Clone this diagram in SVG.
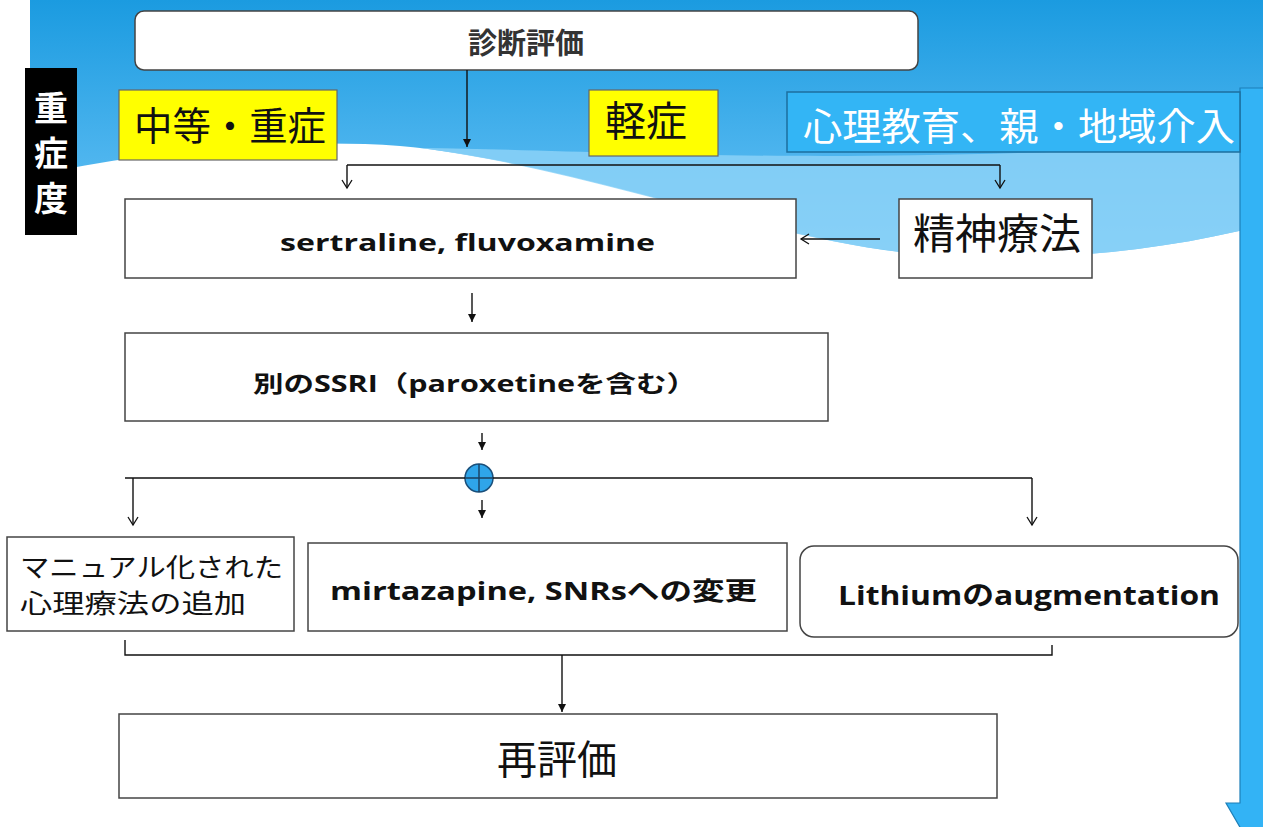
<svg xmlns="http://www.w3.org/2000/svg" width="1263" height="827" viewBox="0 0 1263 827">
<defs>
<linearGradient id="sky" x1="0" y1="0" x2="0" y2="1">
<stop offset="0" stop-color="#1b9be0"/>
<stop offset="0.6" stop-color="#4cb4ee"/>
<stop offset="1" stop-color="#6cc4f4"/>
</linearGradient>
<marker id="ao" markerWidth="12" markerHeight="12" refX="10" refY="6" orient="auto" markerUnits="userSpaceOnUse">
<path d="M2,1 L10,6 L2,11" fill="none" stroke="#111" stroke-width="1.3"/>
</marker>
<marker id="af" markerWidth="10" markerHeight="10" refX="9" refY="5" orient="auto" markerUnits="userSpaceOnUse">
<path d="M1,1 L9,5 L1,9 Z" fill="#111"/>
</marker>
</defs>
<style>
.box{fill:#fff;stroke:#444;stroke-width:1.5}
.yel{fill:#ffff00;stroke:#666;stroke-width:1.2}
.ln{fill:none;stroke:#111;stroke-width:1.4}
.g{font-family:"Noto Sans CJK JP",sans-serif;fill:#111}
.s{font-family:"Liberation Serif","Noto Sans CJK JP",serif;fill:#111}
.b{font-family:"Open Sans","Noto Sans CJK JP",sans-serif;font-weight:bold;fill:#111}
.w{fill:#fff}
</style>
<rect width="1263" height="827" fill="#fff"/>
<g id="background">
<path d="M30,0 H1263 V225 C1150,255 1010,265 900,252 C760,236 560,160 400,146 C290,138 150,150 30,176 Z" fill="url(#sky)"/>
<path d="M420,148 C620,150 820,168 1263,142 V225 C1150,255 1010,265 900,252 C760,236 580,168 420,148 Z" fill="#8fd3f8" opacity="0.8"/>
<path d="M1240,88 H1275 V803 H1290 L1252,848 L1226,803 H1240 Z" fill="#33b3f5" stroke="#1d7fb8" stroke-width="1.2"/>
</g>
<g id="severity">
<rect x="25" y="68" width="52" height="167" fill="#000"/>
<text class="s w" x="51" y="121" font-size="34" font-weight="bold" text-anchor="middle">重</text>
<text class="s w" x="51" y="166" font-size="34" font-weight="bold" text-anchor="middle">症</text>
<text class="s w" x="51" y="211" font-size="34" font-weight="bold" text-anchor="middle">度</text>
</g>
<g id="diagnosis">
<rect x="135" y="11" width="783" height="59" rx="9" class="box"/>
<text class="g" x="526" y="54" font-size="29" font-weight="bold" text-anchor="middle" style="fill:#333">診断評価</text>
</g>
<g id="moderate">
<rect x="119" y="90" width="218" height="70" class="yel"/>
<text class="s" x="134" y="140" font-size="39" textLength="192" lengthAdjust="spacingAndGlyphs">中等・重症</text>
</g>
<g id="mild">
<rect x="589" y="90" width="129" height="66" class="yel"/>
<text class="s" x="646" y="136" font-size="41" text-anchor="middle">軽症</text>
</g>
<g id="psychoedu">
<rect x="787" y="92" width="453" height="60" fill="#33b5f5" stroke="#1d6f9e" stroke-width="1.5"/>
<text class="s w" x="803" y="140" font-size="38" textLength="432" lengthAdjust="spacingAndGlyphs">心理教育、親・地域介入</text>
</g>
<g id="sertraline">
<rect x="125" y="199" width="671" height="79" class="box"/>
<text class="b" x="280" y="251" font-size="24" textLength="375" lengthAdjust="spacingAndGlyphs">sertraline, fluvoxamine</text>
</g>
<g id="psychotherapy">
<rect x="899" y="199" width="193" height="79" class="box"/>
<text class="s" x="997" y="249" font-size="42" text-anchor="middle">精神療法</text>
</g>
<g id="ssri">
<rect x="125" y="333" width="703" height="88" class="box"/>
<text class="b" x="253" y="392" font-size="23" textLength="444" lengthAdjust="spacingAndGlyphs">別のSSRI（paroxetineを含む）</text>
</g>
<g id="junction">
<circle cx="479" cy="478" r="14" fill="#2fa5ea" stroke="#1a4f7a" stroke-width="1.5"/>
<path d="M465,478 H493 M479,464 V492" stroke="#1a3f5f" stroke-width="1.4"/>
</g>
<g id="manual">
<rect x="7" y="537" width="287" height="94" class="box"/>
<text class="g" x="20" y="577" font-size="26" textLength="263" lengthAdjust="spacingAndGlyphs">マニュアル化された</text>
<text class="g" x="20" y="613" font-size="26" textLength="226" lengthAdjust="spacingAndGlyphs">心理療法の追加</text>
</g>
<g id="mirtazapine">
<rect x="308" y="543" width="479" height="88" class="box"/>
<text class="b" x="330" y="600" font-size="25" textLength="427" lengthAdjust="spacingAndGlyphs">mirtazapine, SNRsへの変更</text>
</g>
<g id="lithium">
<rect x="800" y="546" width="438" height="91" rx="14" class="box"/>
<text class="b" x="838" y="605" font-size="27" textLength="382" lengthAdjust="spacingAndGlyphs">Lithiumのaugmentation</text>
</g>
<g id="reevaluation">
<rect x="119" y="714" width="878" height="84" class="box"/>
<text class="g" x="557" y="774" font-size="40" text-anchor="middle">再評価</text>
</g>
<g id="connectors">
<path class="ln" d="M467,70 V147" marker-end="url(#af)"/>
<path class="ln" d="M347,165 H1000"/>
<path class="ln" d="M347,165 V188" marker-end="url(#ao)"/>
<path class="ln" d="M1000,165 V188" marker-end="url(#ao)"/>
<path class="ln" d="M880,239 H801" marker-end="url(#ao)"/>
<path class="ln" d="M472,293 V322" marker-end="url(#af)"/>
<path class="ln" d="M482,433 V450" marker-end="url(#af)"/>
<path class="ln" d="M125,478 H465 M493,478 H1032"/>
<path class="ln" d="M133,478 V525" marker-end="url(#ao)"/>
<path class="ln" d="M1032,478 V525" marker-end="url(#ao)"/>
<path class="ln" d="M482,500 V518" marker-end="url(#af)"/>
<path class="ln" d="M125,640 V655 H1052 V645"/>
<path class="ln" d="M562,655 V712" marker-end="url(#af)"/>
</g>
</svg>
